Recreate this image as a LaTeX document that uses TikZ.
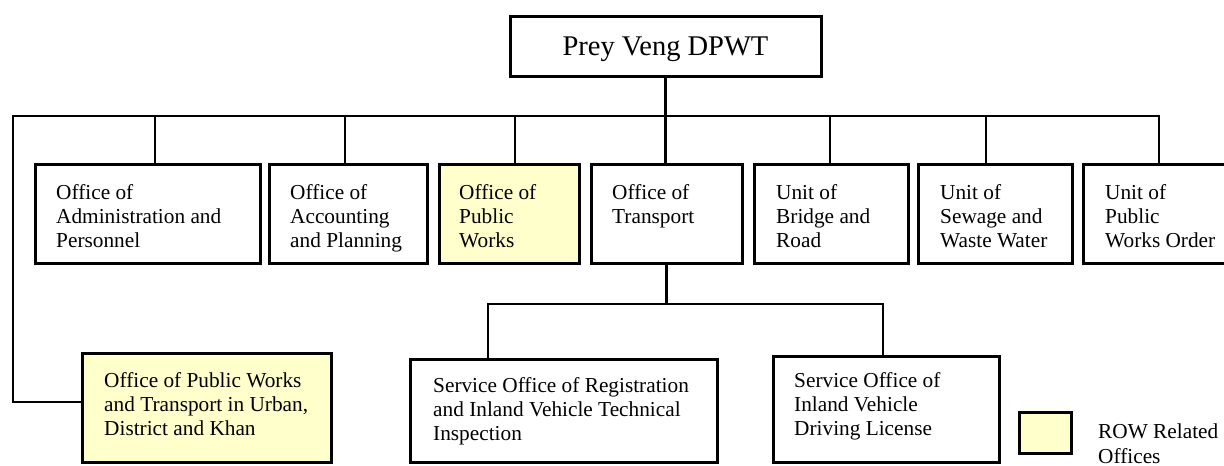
\documentclass[tikz,border=0pt]{standalone}
\usepackage{fontspec}
\setmainfont{Liberation Serif}
\definecolor{rowy}{RGB}{255,255,204}
\newcommand{\ml}[1]{\parbox[t]{400pt}{#1}}
\begin{document}
\begin{tikzpicture}[x=1pt,y=-1pt,
  box/.style={draw, line width=3pt, inner sep=0pt, outer sep=0pt, fill=white},
  rowbox/.style={box, minimum height=99pt},
  conn/.style={line width=2.6pt},
  lbl/.style={anchor=base west, inner sep=0pt, font=\fontsize{21.3}{24}\selectfont},
]
\useasboundingbox (0,0) rectangle (1224,466);
\clip (0,0) rectangle (1224,466);

% boxes
\node[box, minimum width=311pt, minimum height=60pt, text depth=0pt,
      font=\fontsize{28.5}{34}\selectfont] (top) at (665.5,46) {Prey Veng DPWT};
\node[rowbox, minimum width=225pt] (b1) at (147.5,213.5) {};
\node[rowbox, minimum width=158pt] (b2) at (348,213.5) {};
\node[rowbox, minimum width=140pt, fill=rowy] (b3) at (509,213.5) {};
\node[rowbox, minimum width=151pt] (b4) at (666.5,213.5) {};
\node[rowbox, minimum width=154pt] (b5) at (831,213.5) {};
\node[rowbox, minimum width=154pt] (b6) at (995,213.5) {};
\node[rowbox, minimum width=155pt] (b7) at (1160.5,213.5) {};
\node[box, minimum width=249pt, minimum height=109pt, fill=rowy] (urb) at (206.5,407.5) {};
\node[box, minimum width=307pt, minimum height=103pt] (s1) at (563.5,410.5) {};
\node[box, minimum width=226pt, minimum height=106pt] (s2) at (886,409) {};
\node[box, minimum width=52pt, minimum height=41pt, fill=rowy] (leg) at (1045,432.5) {};

% texts
\node[lbl] (t1) at (56,199) {\ml{Office of\\Administration and\\Personnel}};
\node[lbl] (t2) at (290,199) {\ml{Office of\\Accounting\\and Planning}};
\node[lbl] (t3) at (459,199) {\ml{Office of\\Public\\Works}};
\node[lbl] (t4) at (612,199) {\ml{Office of\\Transport}};
\node[lbl] (t5) at (776,199) {\ml{Unit of\\Bridge and\\Road}};
\node[lbl] (t6) at (940,199) {\ml{Unit of\\Sewage and\\Waste Water}};
\node[lbl] (t7) at (1105,199) {\ml{Unit of\\Public\\Works Order}};
\node[lbl] (turb) at (104,387) {\ml{Office of Public Works\\and Transport in Urban,\\District and Khan}};
\node[lbl] (ts1) at (433,392) {\ml{Service Office of Registration\\and Inland Vehicle Technical\\Inspection}};
\node[lbl] (ts2) at (794,387) {\ml{Service Office of\\Inland Vehicle\\Driving License}};
\node[lbl, font=\fontsize{21.3}{25.5}\selectfont] (tleg) at (1098,438) {\ml{ROW Related\\Offices}};

% connectors
\coordinate (busL) at (13,116);
\coordinate (busR) at (1159,116);
\coordinate (d1) at (155,116);
\coordinate (d2) at (345,116);
\coordinate (d3) at (515,116);
\coordinate (d5) at (830,116);
\coordinate (d6) at (986,116);
\coordinate (subL) at (488,304);
\coordinate (subR) at (883,304);

\draw[conn] (b7.north -| busR) -- (busR) -- (busL) |- ([yshift=5.5pt]urb.west);
\draw[conn] (top.south) -- (top.south |- b4.north);
\foreach \n in {1,2,3,5,6}{
  \draw[conn] (d\n) -- (d\n |- b\n.north);
}
\draw[conn] (b4.south) -- (b4.south |- subL);
\draw[conn] (s1.north -| subL) -- (subL) -- (subR) -- (s2.north -| subR);
\end{tikzpicture}
\end{document}
